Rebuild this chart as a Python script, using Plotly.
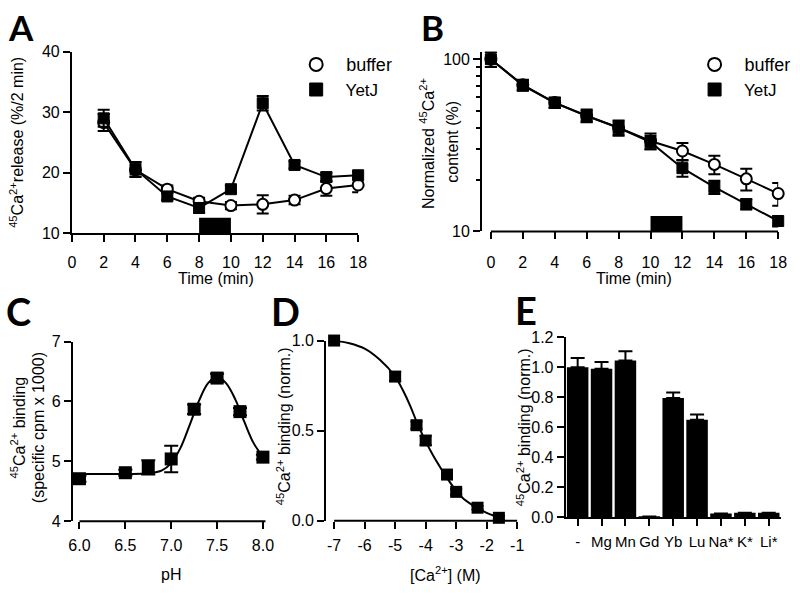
import plotly.graph_objects as go

W, H = 800, 597
def fx(p): return p / W
def fy(p): return 1 - p / H

# ---------------- data ----------------
# Panel A: 45Ca2+ release (%/2 min)
a_time = [2, 4, 6, 8, 10, 12, 14, 16, 18]
a_buffer = [28.3, 20.5, 17.3, 15.3, 14.6, 14.8, 15.5, 17.4, 18.0]
a_buffer_err = [1.4, 1.2, 0.6, 0.6, 0.6, 1.5, 0.7, 1.2, 1.2]
a_yetj = [29.0, 20.6, 16.1, 14.2, 17.3, 31.5, 21.3, 19.3, 19.6]
a_yetj_err = [1.4, 1.2, 0.6, 0.8, 0.6, 1.2, 0.6, 0.7, 0.6]
a_application = [8, 10]

# Panel B: normalized 45Ca2+ content (%)
b_time = [0, 2, 4, 6, 8, 10, 12, 14, 16, 18]
b_buffer = [100, 71, 56, 47, 40, 33.5, 29.3, 24.5, 20.2, 16.6]
b_buffer_err = [10, 5, 4, 4, 4, 3.5, 3.3, 3.0, 2.9, 2.5]
b_yetj = [100, 70.5, 55.8, 46.8, 40, 33.0, 23.3, 18.1, 14.4, 11.5]
b_yetj_err = [10, 5, 3.5, 3.5, 3.5, 3.0, 2.5, 1.6, 1.0, 0.8]
b_application = [10, 12]

# Panel C: pH dependence
c_ph = [6.0, 6.5, 6.75, 7.0, 7.25, 7.5, 7.75, 8.0]
c_binding = [4.71, 4.81, 4.90, 5.04, 5.87, 6.39, 5.83, 5.07]
c_err = [0.05, 0.05, 0.12, 0.22, 0.08, 0.07, 0.06, 0.04]
c_fit_ph = [6.0, 6.5, 6.75, 6.9, 7.0, 7.1, 7.2, 7.3, 7.4, 7.5, 7.6, 7.7, 7.8, 7.9, 8.0]
c_fit = [4.79, 4.79, 4.80, 4.85, 4.97, 5.22, 5.60, 6.00, 6.30, 6.42, 6.30, 6.03, 5.65, 5.30, 5.08]

# Panel D: Ca2+ dependence
d_logca = [-7, -5, -4.3, -4, -3.3, -3, -2.3, -1.6]
d_binding = [1.0, 0.80, 0.53, 0.445, 0.256, 0.16, 0.072, 0.016]
d_err = [0.01, 0.025, 0.02, 0.025, 0.015, 0.015, 0.01, 0.01]
d_fit_x = [-7, -6.5, -6, -5.5, -5, -4.75, -4.5, -4.25, -4, -3.75, -3.5, -3.25, -3, -2.75, -2.5, -2.25, -2, -1.75, -1.6]
d_fit = [1.0, 0.985, 0.955, 0.893, 0.80, 0.725, 0.635, 0.53, 0.44, 0.36, 0.29, 0.225, 0.165, 0.12, 0.09, 0.065, 0.043, 0.027, 0.02]

# Panel E: cation competition
e_cations = ["-", "Mg", "Mn", "Gd", "Yb", "Lu", "Na*", "K*", "Li*"]
e_binding = [1.0, 0.99, 1.045, 0.006, 0.795, 0.65, 0.025, 0.03, 0.03]
e_err = [0.062, 0.045, 0.063, 0, 0.038, 0.035, 0, 0, 0]

# tick labels
a_xticks = list(range(0, 19, 2))
c_xticks = [6.0, 6.5, 7.0, 7.5, 8.0]
c_xlabels = ["6.0", "6.5", "7.0", "7.5", "8.0"]
d_xticks = [-7, -6, -5, -4, -3, -2, -1]
d_xlabels = ["-7", "-6", "-5", "-4", "-3", "-2", "-1"]
e_yticks = [0, 0.2, 0.4, 0.6, 0.8, 1.0, 1.2]
e_ylabels = ["0.0", "0.2", "0.4", "0.6", "0.8", "1.0", "1.2"]

# ---------------- figure ----------------
BLACK = "black"
FONT = "Arial, Liberation Sans, sans-serif"
FS = 16
fig = go.Figure()

def err(arr, w=6):
    return dict(type="data", array=arr, color=BLACK, thickness=2, width=w)

circle = dict(symbol="circle", size=11, color="white", line=dict(color=BLACK, width=2))
square = dict(symbol="square", size=11, color=BLACK, line=dict(color=BLACK, width=1))
NB = "\u00a0\u00a0"
buffer_name = "<span style='font-size:18px'>" + NB + "buffer</span>"
yetj_name = NB + "YetJ"

# A
fig.add_trace(go.Scatter(x=a_time, y=a_buffer, error_y=err(a_buffer_err), mode="lines+markers",
                         marker=circle, line=dict(color=BLACK, width=2), name="buffer", showlegend=False,
                         xaxis="x", yaxis="y", cliponaxis=False))
fig.add_trace(go.Scatter(x=a_time, y=a_yetj, error_y=err(a_yetj_err), mode="lines+markers",
                         marker=square, line=dict(color=BLACK, width=2), name="YetJ", showlegend=False,
                         xaxis="x", yaxis="y", cliponaxis=False))
# B
fig.add_trace(go.Scatter(x=b_time, y=b_buffer, error_y=err(b_buffer_err), mode="lines+markers",
                         marker=circle, line=dict(color=BLACK, width=2), name="buffer", showlegend=False,
                         xaxis="x2", yaxis="y2", cliponaxis=False))
fig.add_trace(go.Scatter(x=b_time, y=b_yetj, error_y=err(b_yetj_err), mode="lines+markers",
                         marker=square, line=dict(color=BLACK, width=2), name="YetJ", showlegend=False,
                         xaxis="x2", yaxis="y2", cliponaxis=False))
# legend keys (markers only, no data)
for lg, xa, ya in [("legend", "x", "y"), ("legend2", "x2", "y2")]:
    fig.add_trace(go.Scatter(x=[None], y=[None], mode="markers", marker=dict(circle, size=13),
                             name=buffer_name, legend=lg, xaxis=xa, yaxis=ya))
    fig.add_trace(go.Scatter(x=[None], y=[None], mode="markers", marker=dict(square, size=13),
                             name=yetj_name, legend=lg, xaxis=xa, yaxis=ya))
# C
fig.add_trace(go.Scatter(x=c_fit_ph, y=c_fit, mode="lines", line=dict(color=BLACK, width=2, shape="spline"),
                         xaxis="x3", yaxis="y3", showlegend=False, hoverinfo="skip"))
fig.add_trace(go.Scatter(x=c_ph, y=c_binding, error_y=err(c_err, 7), mode="markers",
                         marker=dict(symbol="square", size=13, color=BLACK),
                         xaxis="x3", yaxis="y3", showlegend=False, cliponaxis=False))
# D
fig.add_trace(go.Scatter(x=d_fit_x, y=d_fit, mode="lines", line=dict(color=BLACK, width=2, shape="spline"),
                         xaxis="x4", yaxis="y4", showlegend=False, hoverinfo="skip"))
fig.add_trace(go.Scatter(x=d_logca, y=d_binding, error_y=err(d_err, 6), mode="markers",
                         marker=dict(symbol="square", size=12, color=BLACK),
                         xaxis="x4", yaxis="y4", showlegend=False, cliponaxis=False))
# E
fig.add_trace(go.Bar(x=e_cations, y=e_binding,
                     error_y=dict(type="data", array=e_err, arrayminus=[0] * len(e_err), symmetric=False,
                                  color=BLACK, thickness=2, width=7),
                     marker=dict(color=BLACK, line=dict(width=0)),
                     xaxis="x5", yaxis="y5", showlegend=False))

tickfont = dict(family=FONT, size=FS, color=BLACK)
common = dict(showgrid=False, zeroline=False, ticks="outside", ticklen=7, tickwidth=2,
              tickcolor=BLACK, linecolor=BLACK, linewidth=2, tickfont=tickfont, fixedrange=True)

legend_common = dict(xanchor="left", yanchor="top", bgcolor="rgba(0,0,0,0)",
                     font=dict(family=FONT, size=17, color=BLACK), tracegroupgap=0,
                     itemclick=False, itemdoubleclick=False)

layout = dict(
    width=W, height=H, margin=dict(l=0, r=0, t=0, b=0, pad=0),
    paper_bgcolor="white", plot_bgcolor="white",
    font=dict(family=FONT, size=FS, color=BLACK),
    bargap=0.1,
    xaxis=dict(domain=[fx(69), fx(360)], range=[0, 18], tickvals=a_xticks,
               showline=True, anchor="y", ticklabelstandoff=6, **common),
    yaxis=dict(domain=[fy(232), fy(45)], range=[10, 40], tickvals=[10, 20, 30, 40],
               showline=True, anchor="x", **common),
    xaxis2=dict(domain=[fx(486), fx(787)], range=[-0.55, 18], tickvals=a_xticks,
                showline=False, anchor="y2", ticklabelstandoff=9, **common),
    yaxis2=dict(domain=[fy(230), fy(45)], type="log", range=[1, 2.0434], tickvals=[10, 100],
                ticktext=["10", "100"], showline=True, anchor="x2",
                minor=dict(tickvals=[20, 30, 40, 50, 60, 70, 80, 90], ticks="outside", ticklen=4,
                           tickwidth=1.5, tickcolor=BLACK), **common),
    xaxis3=dict(domain=[fx(70), fx(266)], range=[5.928, 8.03], tickvals=c_xticks,
                ticktext=c_xlabels, showline=False, anchor="y3", ticklabelstandoff=3, **common),
    yaxis3=dict(domain=[fy(528.3), fy(343.3)], range=[4, 7], tickvals=[4, 5, 6, 7],
                showline=True, anchor="x3", **common),
    xaxis4=dict(domain=[fx(327.5), fx(522)], range=[-7.26, -0.99], tickvals=d_xticks, ticktext=d_xlabels,
                showline=False, anchor="y4", ticklabelstandoff=3, **common),
    yaxis4=dict(domain=[fy(527.7), fy(342.3)], range=[0, 1], tickvals=[0, 0.5, 1.0],
                ticktext=["0.0", "0.5", "1.0"], showline=True, anchor="x4", **common),
    xaxis5=dict(domain=[fx(571), fx(789.5)], range=[-0.5, 8.5], type="category",
                showline=True, anchor="y5", ticklabelstandoff=3, tickangle=0, **common),
    yaxis5=dict(domain=[fy(524.3), fy(339)], range=[0, 1.2], tickvals=e_yticks, ticktext=e_ylabels,
                showline=True, anchor="x5", **common),
    legend=dict(x=fx(297), y=fy(40), **legend_common),
    legend2=dict(x=fx(702), y=fy(40), **legend_common),
)
fig.update_layout(**layout)
fig.update_xaxes(tickfont_size=15, selector=dict(anchor="y5"))

shapes = [
    # application bars
    dict(type="rect", xref="x", yref="y domain", x0=a_application[0], x1=a_application[1],
         y0=0, y1=16 / 187, fillcolor=BLACK, line=dict(width=0)),
    dict(type="rect", xref="x2", yref="y2 domain", x0=b_application[0], x1=b_application[1],
         y0=0, y1=16 / 185, fillcolor=BLACK, line=dict(width=0)),
    # offset x-axis lines (B, C, D)
    dict(type="line", xref="x2", yref="y2 domain", x0=0, x1=18, y0=0, y1=0, line=dict(color=BLACK, width=2)),
    dict(type="line", xref="x3", yref="y3 domain", x0=6.0, x1=8.03, y0=0, y1=0, line=dict(color=BLACK, width=2)),
    dict(type="line", xref="x4", yref="y4 domain", x0=-7, x1=-1, y0=0, y1=0, line=dict(color=BLACK, width=2)),
]
fig.update_layout(shapes=shapes)

def ann(text, x, y, size=FS, angle=0, family=FONT, xanchor="center", yanchor="middle"):
    return dict(text=text, x=fx(x), y=fy(y), xref="paper", yref="paper", showarrow=False,
                textangle=angle, xanchor=xanchor, yanchor=yanchor,
                font=dict(family=family, size=size, color=BLACK))

sup = "<sup>45</sup>Ca<sup>2+</sup>"
LETTER = "Lato, Open Sans, sans-serif"
annotations = [
    # panel letters
    ann("<b>A</b>", 2, 20, 35, family=LETTER, xanchor="left"),
    ann("<b>B</b>", 422, 20, 35, family=LETTER, xanchor="left"),
    ann("<b>C</b>", 0, 312, 38, family=LETTER, xanchor="left"),
    ann("<b>D</b>", 269, 312, 38, family=LETTER, xanchor="left"),
    ann("<b>E</b>", 517, 311, 38, family=LETTER, xanchor="left"),
    # axis titles
    ann(sup + "release (%/2 min)", 13, 138, FS, -90),
    ann("Time (min)", 215, 278),
    ann("Normalized " + sup, 430, 140, FS, -90),
    ann("content (%)", 455, 138, FS, -90),
    ann("Time (min)", 640, 278),
    ann(sup + " binding", 14, 432, FS, -90),
    ann("(specific cpm x 1000)", 35, 432, FS, -90),
    ann("pH", 170, 583),
    ann(sup + " binding (norm.)", 284, 430, FS, -90),
    ann("[Ca<sup>2+</sup>] (M)", 449, 583),
    ann(sup + " binding (norm.)", 528, 431, FS, -90),
]
fig.update_layout(annotations=annotations)

fig.write_html("out.html", config={"displayModeBar": False},
               post_script="document.body.style.margin='0px';")
